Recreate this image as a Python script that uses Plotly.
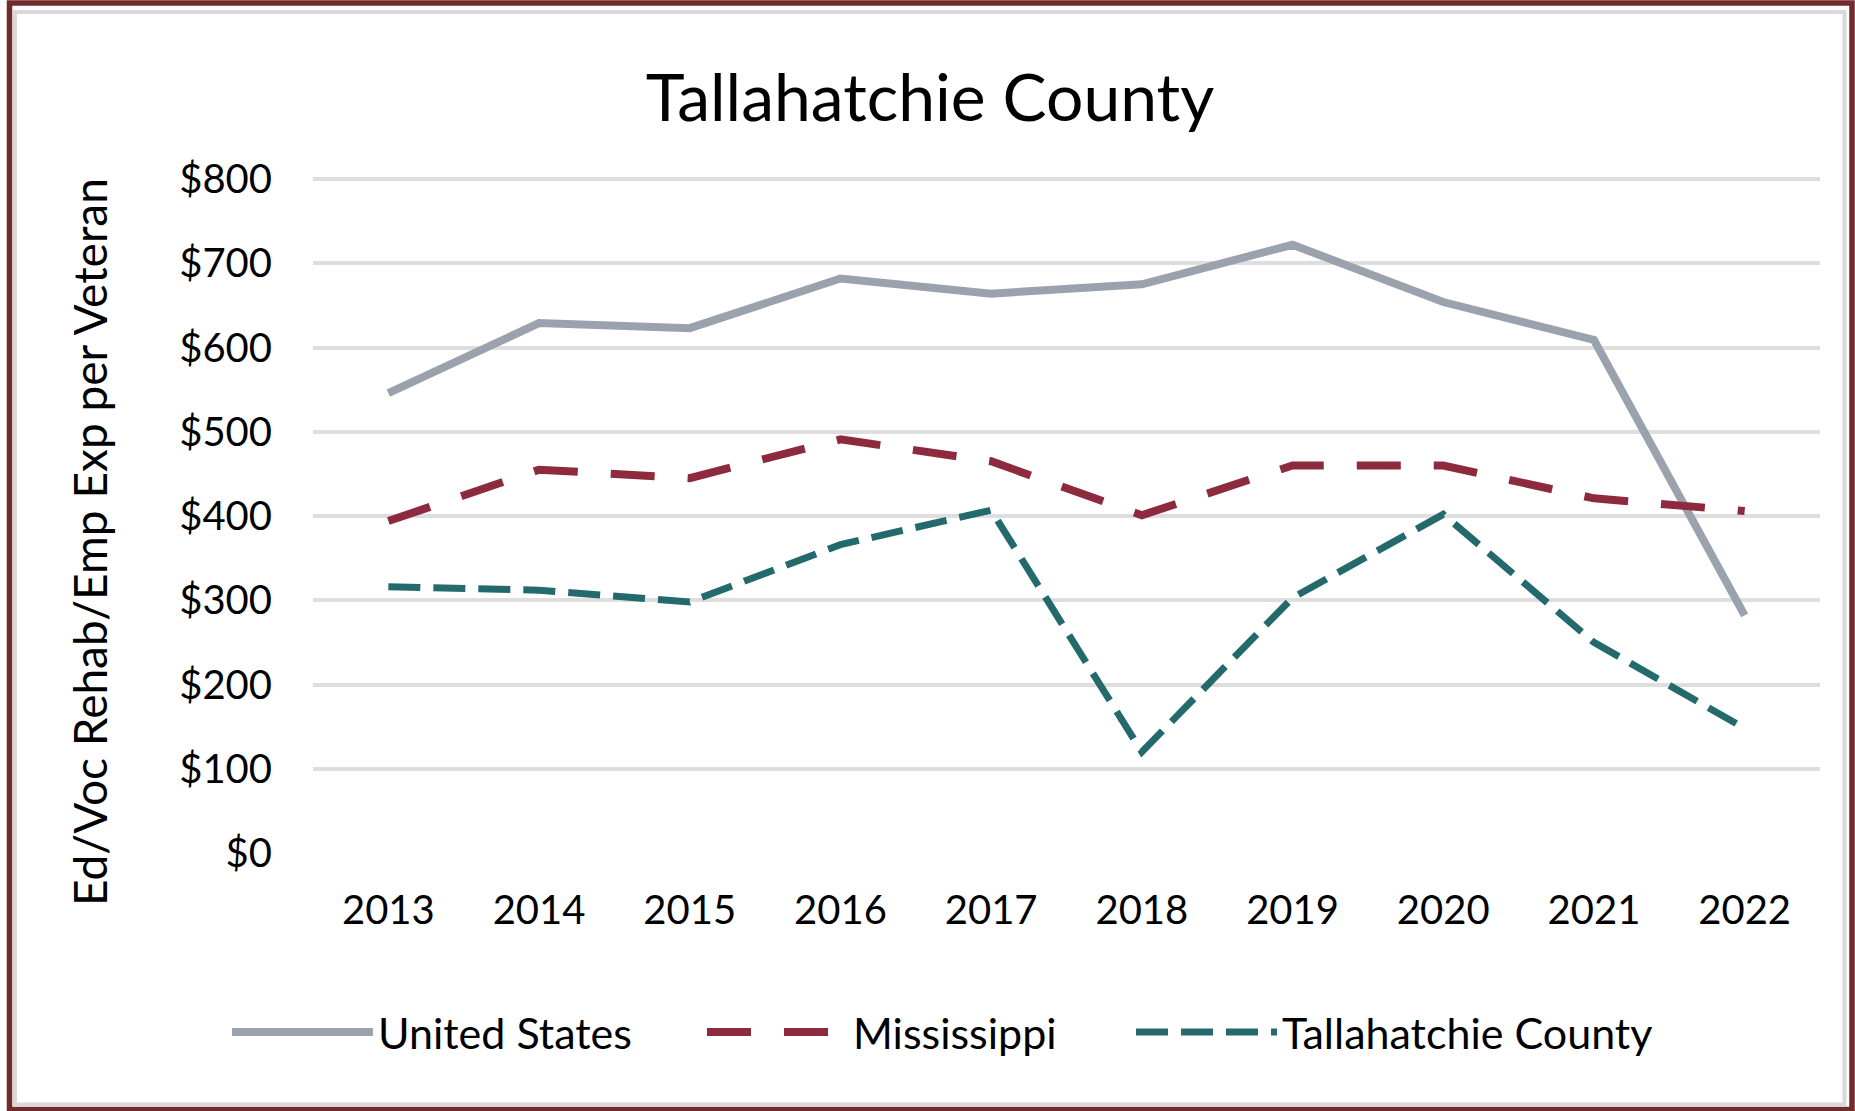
import plotly.graph_objects as go

years = ["2013", "2014", "2015", "2016", "2017", "2018", "2019", "2020", "2021", "2022"]
united_states = [546, 629, 623, 682, 664, 675, 722, 654, 609, 282]
mississippi = [394, 455, 445, 491, 465, 401, 460, 460, 421, 406]
tallahatchie = [316, 312, 298, 366, 407, 120, 303, 402, 250, 148]
y_ticks = [0, 100, 200, 300, 400, 500, 600, 700, 800]
y_tick_labels = ["$0", "$100", "$200", "$300", "$400", "$500", "$600", "$700", "$800"]

W, H = 1855, 1111
Y_MAX = 806
L, R, B = 313, 1820, 853
K = (853 - 179) / 800          # pixels per dollar
T = B - K * Y_MAX
PW, PH = R - L, B - T


def px(x):
    return (x - L) / PW


def py(y):
    return (B - y) / PH


FONT = "Lato"

fig = go.Figure()
fig.add_trace(go.Scatter(x=years, y=united_states, mode="lines", name="United States",
                         line=dict(color="#9aa3ad", width=8), legend="legend"))
fig.add_trace(go.Scatter(x=years, y=mississippi, mode="lines", name="Mississippi",
                         line=dict(color="#8e2a3d", width=8, dash="44px,33px"), legend="legend2"))
fig.add_trace(go.Scatter(x=years, y=tallahatchie, mode="lines", name="Tallahatchie County",
                         line=dict(color="#246a6d", width=7, dash="32px,13px"), legend="legend3"))

leg_common = dict(orientation="h", yanchor="middle", xanchor="left", itemwidth=141,
                  font=dict(family=FONT, size=43, color="#000000"),
                  bgcolor="rgba(0,0,0,0)", borderwidth=0)

fig.update_layout(
    width=W, height=H,
    margin=dict(l=L, r=W - R, t=T, b=H - B, autoexpand=False),
    paper_bgcolor="white", plot_bgcolor="white",
    title=dict(text="Tallahatchie County", x=930 / W, xanchor="center", xref="container",
               y=1 - 98 / H, yanchor="middle", yref="container",
               font=dict(family=FONT, size=66, color="#000000")),
    xaxis=dict(type="category", range=[-0.5, 9.5], showgrid=False, zeroline=False,
               showline=False, ticks="", ticklabelstandoff=30,
               tickfont=dict(family=FONT, size=40, color="#000000")),
    yaxis=dict(range=[0, Y_MAX], tickvals=y_ticks, ticktext=y_tick_labels, showgrid=True,
               gridcolor="#dedede", gridwidth=3.5, zeroline=False, showline=False,
               ticks="", ticklabelstandoff=40,
               tickfont=dict(family=FONT, size=40, color="#000000")),
    legend=dict(x=px(227), y=py(1032), **leg_common),
    legend2=dict(x=px(702), y=py(1032), **leg_common),
    legend3=dict(x=px(1131), y=py(1032), **leg_common),
    showlegend=True,
    annotations=[dict(text="Ed/Voc Rehab/Emp Exp per Veteran", x=px(89), y=py(542),
                      xref="paper", yref="paper", textangle=-90, showarrow=False,
                      xanchor="center", yanchor="middle",
                      font=dict(family=FONT, size=46, color="#000000"))],
    shapes=[
        dict(type="rect", xref="paper", yref="paper", x0=px(9.5), x1=px(1852),
             y0=py(3), y1=py(1109.5), line=dict(color="#722a2a", width=5.5)),
        dict(type="rect", xref="paper", yref="paper", x0=px(15), x1=px(1844.5),
             y0=py(12), y1=py(1104.5), line=dict(color="#d9d9d9", width=4)),
    ],
)

fig.write_html("out.html", config={"displayModeBar": False},
               post_script="document.body.style.margin='0';")
